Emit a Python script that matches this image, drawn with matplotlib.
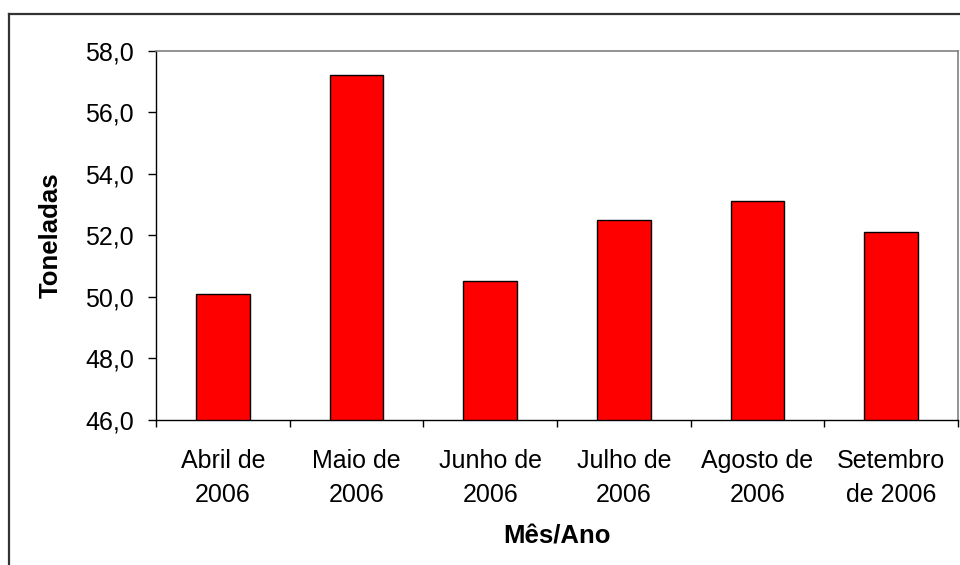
import matplotlib
matplotlib.use("Agg")
import matplotlib.pyplot as plt
import numpy as np
from matplotlib.lines import Line2D
from matplotlib.ticker import FuncFormatter, FixedLocator

plt.rcParams["font.family"] = ["Liberation Sans", "DejaVu Sans"]

months = ["Abril de\n2006", "Maio de\n2006", "Junho de\n2006",
          "Julho de\n2006", "Agosto de\n2006", "Setembro\nde 2006"]
tonnes = [50.1, 57.2, 50.5, 52.5, 53.1, 52.1]
y_ticks = [46, 48, 50, 52, 54, 56, 58]

fig = plt.figure(figsize=(9.6, 5.65), dpi=100)
ax = fig.add_axes([156 / 960, 1 - 420 / 565, (958 - 156) / 960, (420 - 50.5) / 565])

x = np.arange(len(months))
ax.bar(x, tonnes, width=0.40, color="#ff0000", edgecolor="black", linewidth=1.0)

ax.set_xlim(-0.5, len(months) - 0.5)
ax.set_ylim(46, 58)
ax.set_yticks(y_ticks)
ax.yaxis.set_major_formatter(FuncFormatter(lambda v, _: f"{v:.1f}".replace(".", ",")))
ax.set_xticks(x)
ax.set_xticklabels(months, linespacing=1.5)
ax.xaxis.set_minor_locator(FixedLocator(np.arange(-0.5, len(months), 1.0)))

ax.tick_params(axis="y", direction="out", length=6, width=1, pad=10, labelsize=18)
ax.tick_params(axis="x", which="major", length=0, pad=21, labelsize=18)
ax.tick_params(axis="x", which="minor", direction="out", length=5, width=1)

for side in ("left", "bottom"):
    ax.spines[side].set_color("black")
    ax.spines[side].set_linewidth(1.0)
for side in ("top", "right"):
    ax.spines[side].set_color("#808080")
    ax.spines[side].set_linewidth(1.2)

ax.set_ylabel("Toneladas", fontsize=18.5, fontweight="bold", labelpad=16)
ax.set_xlabel("Mês/Ano", fontsize=18.5, fontweight="bold", labelpad=13)

# outer chart frame (left and top edges visible)
fx, fy = 8.5 / 960, 1 - 14 / 565
fig.add_artist(Line2D([fx, fx], [fy, 0], transform=fig.transFigure, color="#333333", lw=1.6))
fig.add_artist(Line2D([fx, 1], [fy, fy], transform=fig.transFigure, color="#333333", lw=1.6))

fig.savefig("out.png", dpi=100)
